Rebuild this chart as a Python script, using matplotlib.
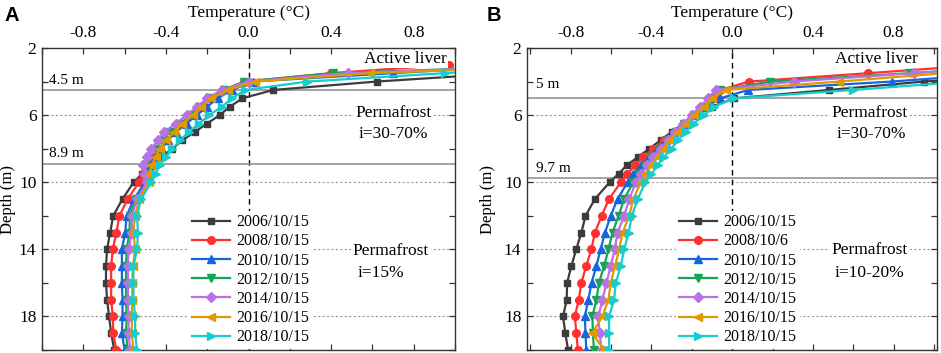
import matplotlib
matplotlib.use("Agg")
import matplotlib.pyplot as plt
from matplotlib.ticker import FixedLocator

plt.rcParams['font.family'] = ['Liberation Serif', 'DejaVu Serif']

# depth of the sensors (m)
depth = [3.0, 3.5, 4.0, 4.5, 5.0, 5.5, 6.0, 6.5, 7.0, 7.5, 8.0, 8.5, 9.0, 9.5,
         10, 11, 12, 13, 14, 15, 16, 17, 18, 19, 20]

# panel A temperatures (deg C)
a_2006 = [2.0, 1.25, 0.62, 0.12, -0.03, -0.09, -0.14, -0.20, -0.26, -0.32, -0.37, -0.42, -0.47, -0.515,
          -0.556, -0.61, -0.655, -0.67, -0.685, -0.69, -0.69, -0.685, -0.675, -0.665, -0.65]
a_2008 = [0.97, 0.40, -0.02, -0.12, -0.18, -0.22, -0.26, -0.31, -0.36, -0.40, -0.43, -0.46, -0.48, -0.51,
          -0.53, -0.585, -0.625, -0.64, -0.657, -0.665, -0.665, -0.665, -0.657, -0.655, -0.64]
a_2010 = [1.4, 0.70, 0.02, -0.08, -0.15, -0.20, -0.25, -0.30, -0.35, -0.39, -0.42, -0.45, -0.47, -0.49,
          -0.50, -0.555, -0.59, -0.597, -0.613, -0.613, -0.613, -0.61, -0.61, -0.613, -0.60]
a_2012 = [1.6, 0.41, -0.02, -0.12, -0.19, -0.24, -0.28, -0.33, -0.38, -0.42, -0.45, -0.48, -0.50, -0.50,
          -0.49, -0.545, -0.575, -0.576, -0.59, -0.593, -0.593, -0.593, -0.59, -0.593, -0.585]
a_2014 = [1.6, 0.48, 0.0, -0.13, -0.20, -0.25, -0.30, -0.35, -0.41, -0.44, -0.47, -0.49, -0.51, -0.50,
          -0.49, -0.54, -0.565, -0.565, -0.581, -0.584, -0.584, -0.584, -0.581, -0.581, -0.573]
a_2016 = [1.7, 0.59, 0.03, -0.10, -0.18, -0.23, -0.27, -0.32, -0.36, -0.40, -0.43, -0.45, -0.47, -0.48,
          -0.48, -0.53, -0.55, -0.557, -0.549, -0.56, -0.563, -0.563, -0.565, -0.565, -0.557]
a_2018 = [1.6, 0.95, 0.285, -0.015, -0.08, -0.13, -0.19, -0.24, -0.29, -0.33, -0.37, -0.40, -0.43, -0.45,
          -0.47, -0.52, -0.54, -0.535, -0.54, -0.557, -0.557, -0.557, -0.549, -0.549, -0.54]

# panel B temperatures (deg C)
b_2006 = [2.2, 1.6, 0.95, 0.48, 0.01, -0.10, -0.18, -0.24, -0.30, -0.355, -0.41, -0.468, -0.523, -0.563,
          -0.607, -0.68, -0.727, -0.747, -0.773, -0.797, -0.818, -0.82, -0.838, -0.827, -0.813]
b_2008 = [1.25, 0.675, 0.085, -0.06, -0.08, -0.12, -0.17, -0.23, -0.29, -0.34, -0.39, -0.44, -0.48, -0.52,
          -0.552, -0.61, -0.647, -0.68, -0.698, -0.723, -0.748, -0.76, -0.78, -0.772, -0.765]
b_2010 = [1.9, 1.35, 0.79, 0.08, -0.06, -0.13, -0.19, -0.245, -0.29, -0.33, -0.37, -0.41, -0.45, -0.49,
          -0.518, -0.568, -0.602, -0.63, -0.652, -0.673, -0.697, -0.713, -0.73, -0.727, -0.723]
b_2012 = [1.5, 0.88, 0.19, -0.06, -0.10, -0.14, -0.19, -0.24, -0.28, -0.32, -0.36, -0.40, -0.43, -0.46,
          -0.49, -0.535, -0.563, -0.593, -0.613, -0.635, -0.66, -0.673, -0.693, -0.69, -0.685]
b_2014 = [1.5, 0.90, 0.305, -0.08, -0.12, -0.16, -0.20, -0.245, -0.285, -0.32, -0.355, -0.39, -0.42, -0.45,
          -0.477, -0.51, -0.535, -0.568, -0.582, -0.602, -0.623, -0.643, -0.663, -0.657, -0.647]
b_2016 = [1.6, 1.05, 0.53, -0.03, -0.10, -0.14, -0.19, -0.23, -0.27, -0.31, -0.34, -0.37, -0.40, -0.43,
          -0.452, -0.49, -0.51, -0.543, -0.56, -0.58, -0.602, -0.613, -0.643, -0.693, -0.635]
b_2018 = [2.4, 1.8, 1.15, 0.60, 0.01, -0.09, -0.14, -0.19, -0.23, -0.27, -0.30, -0.34, -0.37, -0.40,
          -0.43, -0.468, -0.497, -0.513, -0.535, -0.552, -0.577, -0.585, -0.61, -0.61, -0.61]

labels_a = ["2006/10/15", "2008/10/15", "2010/10/15", "2012/10/15", "2014/10/15", "2016/10/15", "2018/10/15"]
labels_b = ["2006/10/15", "2008/10/6", "2010/10/15", "2012/10/15", "2014/10/15", "2016/10/15", "2018/10/15"]

colors = ["#3c3c3c", "#ff3030", "#1565e0", "#17a356", "#b872e6", "#e09a00", "#16cccc"]
markers = ["s", "o", "^", "v", "D", "<", ">"]
msizes = [5, 5.5, 6, 6, 5, 6, 6]

fig = plt.figure(figsize=(9.41, 3.53), dpi=100)
ax_a = fig.add_axes([0.0446, 0.0085, 0.439, 0.8555])
ax_b = fig.add_axes([0.560, 0.0085, 0.4357, 0.8555])


def setup(ax, xlim, ylab_x):
    ax.set_xlim(*xlim)
    ax.set_ylim(20, 2)
    ax.xaxis.set_label_position('top')
    ax.xaxis.tick_top()
    ax.xaxis.set_major_locator(FixedLocator([-0.8, -0.4, 0.0, 0.4, 0.8]))
    ax.xaxis.set_minor_locator(FixedLocator([-1.0, -0.6, -0.2, 0.2, 0.6, 1.0]))
    ax.set_xticklabels(["-0.8", "-0.4", "0.0", "0.4", "0.8"])
    ax.yaxis.set_major_locator(FixedLocator([2, 6, 10, 14, 18]))
    ax.yaxis.set_minor_locator(FixedLocator([4, 8, 12, 16, 20]))
    ax.tick_params(which='both', direction='in', top=True, bottom=True, left=True, right=True,
                   length=4, width=0.9, color='#333333', labelsize=12.5, pad=5)
    ax.tick_params(axis='y', pad=4)
    ax.set_xlabel("Temperature (\u00b0C)", fontsize=12.5, labelpad=6)
    ax.set_ylabel("Depth (m)", fontsize=12)
    ax.yaxis.set_label_coords(ylab_x, 0.5)
    for sp in ax.spines.values():
        sp.set_color('#333333')
        sp.set_linewidth(1.0)
    for y in [6, 10, 14, 18]:
        ax.axhline(y, color='#999999', lw=0.8, ls=(0, (2, 2)), zorder=0)
    ax.axvline(0, color='black', lw=1.0, ls=(0, (4, 3)), zorder=1)


def draw(ax, series, labels, lines, texts, leg_x):
    for vals, lab, c, m, ms in zip(series, labels, colors, markers, msizes):
        ax.plot(vals, depth, color=c, marker=m, markersize=ms, lw=1.6, label=lab, zorder=3)
    for y in lines:
        ax.axhline(y, color='#8a8a8a', lw=1.1, zorder=2)
    for x, y, s, ha in texts:
        ax.text(x, y, s, ha=ha, va='center', fontsize=12.5, zorder=4,
                bbox=dict(facecolor='white', edgecolor='none', pad=1.0))
    leg = ax.legend(loc='upper left', bbox_to_anchor=(leg_x, 0.46), fontsize=11.5,
                    frameon=True, facecolor='white', edgecolor='none', framealpha=1,
                    handlelength=2.4, handletextpad=0.4, labelspacing=0.2, borderpad=0.2,
                    borderaxespad=0)
    leg.set_zorder(5)


setup(ax_a, (-1.0, 1.0), -0.064)
draw(ax_a, [a_2006, a_2008, a_2010, a_2012, a_2014, a_2016, a_2018], labels_a,
     [4.5, 8.9],
     [(0.96, 2.66, "Active liver", 'right'),
      (0.70, 5.9, "Permafrost", 'center'),
      (0.70, 7.1, "i=30-70%", 'center'),
      (0.69, 14.1, "Permafrost", 'center'),
      (0.64, 15.4, "i=15%", 'center')],
     0.355)
ax_a.text(-0.965, 3.95, "4.5 m", ha='left', va='center', fontsize=11)
ax_a.text(-0.965, 8.3, "8.9 m", ha='left', va='center', fontsize=11)

setup(ax_b, (-1.017, 1.015), -0.075)
draw(ax_b, [b_2006, b_2008, b_2010, b_2012, b_2014, b_2016, b_2018], labels_b,
     [5.0, 9.75],
     [(0.92, 2.66, "Active liver", 'right'),
      (0.68, 5.85, "Permafrost", 'center'),
      (0.69, 7.1, "i=30-70%", 'center'),
      (0.68, 14.06, "Permafrost", 'center'),
      (0.68, 15.4, "i=10-20%", 'center')],
     0.363)
ax_b.text(-0.97, 4.2, "5 m", ha='left', va='center', fontsize=11)
ax_b.text(-0.97, 9.2, "9.7 m", ha='left', va='center', fontsize=11)

fig.text(0.005, 0.955, "A", fontsize=14.5, fontweight='bold', family='Liberation Sans', va='center')
fig.text(0.517, 0.955, "B", fontsize=14.5, fontweight='bold', family='Liberation Sans', va='center')

fig.savefig("out.png", dpi=100)
